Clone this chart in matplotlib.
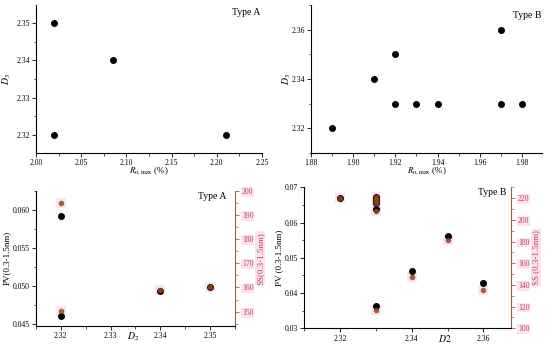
import matplotlib
matplotlib.use("Agg")
import matplotlib.pyplot as plt
from matplotlib.ticker import MultipleLocator, FormatStrFormatter

plt.rcParams['font.family'] = ['Liberation Serif', 'DejaVu Serif']
plt.rcParams['mathtext.fontset'] = 'stix'

# Top-left: Type A, Ro,max vs D3
a_ro = [2.02, 2.02, 2.085, 2.21]
a_d3 = [2.35, 2.32, 2.34, 2.32]
# Top-right: Type B
b_ro = [1.89, 1.91, 1.92, 1.92, 1.93, 1.94, 1.97, 1.97, 1.98]
b_d3 = [2.32, 2.34, 2.35, 2.33, 2.33, 2.33, 2.36, 2.33, 2.33]
# Bottom-left: Type A, D2 vs PV and SS
a_d2 = [2.32, 2.32, 2.34, 2.35]
a_pv = [0.0592, 0.0461, 0.0494, 0.0499]
a_ss = [195.1, 150.4, 158.9, 160.0]
# Bottom-right: Type B
b_d2 = [2.32, 2.33, 2.33, 2.33, 2.33, 2.33, 2.34, 2.35, 2.36]
b_pv = [0.0670, 0.0672, 0.0664, 0.0655, 0.0638, 0.0362, 0.0463, 0.0563, 0.0428]
b_ss = [220.0, 221.3, 218.3, 215.3, 208.2, 117.0, 147.6, 181.7, 135.6]

W, H = 550, 348
fig = plt.figure(figsize=(5.5, 3.48), dpi=100)

def pos(l, r, t, b):
    return [l / W, 1 - b / H, (r - l) / W, (b - t) / H]

TICK = 5.5
BROWN = '#a0603a'
RED = '#c8404a'
PINK = '#fde2f1'
SSCOL = '#94471a'

def style(ax, right=False):
    ax.spines['top'].set_visible(False)
    if not right:
        ax.spines['right'].set_visible(False)
    ax.tick_params(which='both', direction='out', labelsize=TICK, pad=1.5)
    ax.tick_params(which='major', length=3, width=0.6)
    ax.tick_params(which='minor', length=1.8, width=0.5)
    for s in ['left', 'bottom']:
        ax.spines[s].set_linewidth(0.8)

# Panel 1
ax1 = fig.add_axes(pos(36, 262, 5, 153))
ax1.scatter(a_ro, a_d3, s=16, color='black', zorder=3)
ax1.set_xlim(2.0, 2.25)
ax1.set_ylim(2.3152, 2.3548)
ax1.xaxis.set_major_locator(MultipleLocator(0.05))
ax1.xaxis.set_minor_locator(MultipleLocator(0.025))
ax1.yaxis.set_major_locator(MultipleLocator(0.01))
ax1.yaxis.set_minor_locator(MultipleLocator(0.005))
ax1.xaxis.set_major_formatter(FormatStrFormatter('%.2f'))
ax1.yaxis.set_major_formatter(FormatStrFormatter('%.2f'))
style(ax1)
ax1.set_xlabel(r'$R_{\mathrm{o,max}}$ (%)', fontsize=6.5, labelpad=-1)
ax1.set_ylabel(r'$D_3$', fontsize=7, labelpad=2)
ax1.text(0.93, 0.95, 'Type A', transform=ax1.transAxes, fontsize=7, ha='center', va='center')

# Panel 2
ax2 = fig.add_axes(pos(311, 542, 5, 153))
ax2.scatter(b_ro, b_d3, s=16, color='black', zorder=3)
ax2.set_xlim(1.88, 1.9895)
ax2.set_ylim(2.31, 2.37)
ax2.xaxis.set_major_locator(MultipleLocator(0.02))
ax2.xaxis.set_minor_locator(MultipleLocator(0.01))
ax2.yaxis.set_major_locator(MultipleLocator(0.02))
ax2.yaxis.set_minor_locator(MultipleLocator(0.01))
ax2.xaxis.set_major_formatter(FormatStrFormatter('%.2f'))
ax2.yaxis.set_major_formatter(FormatStrFormatter('%.2f'))
style(ax2)
ax2.set_xlabel(r'$R_{\mathrm{o,max}}$ (%)', fontsize=6.5, labelpad=-1)
ax2.set_ylabel(r'$D_3$', fontsize=7, labelpad=-1)
ax2.text(0.935, 0.93, 'Type B', transform=ax2.transAxes, fontsize=7, ha='center', va='center')

def twin_panel(rect, d2, pv, ss, xlim, ylim, y2lim, xmaj, xmin, ymaj, ymin, y2maj, y2min,
               yfmt, y2fmt, xlabel, ylabel, y2label, tx, ty, ttext, xlcoords):
    ax = fig.add_axes(rect)
    axr = ax.twinx()
    axr.set_position(rect)
    axr.set_ylim(*y2lim)
    ax.set_zorder(axr.get_zorder() + 1)
    ax.patch.set_visible(False)
    ax.scatter(d2, ss, s=55, marker='s', color=PINK, zorder=1, linewidths=0,
               transform=axr.transData)
    ax.scatter(d2, pv, s=16, color='black', zorder=3)
    ax.scatter(d2, ss, s=16, color=SSCOL, alpha=0.85, zorder=4, linewidths=0,
               transform=axr.transData)
    ax.set_xlim(*xlim)
    ax.set_ylim(*ylim)
    ax.xaxis.set_major_locator(MultipleLocator(xmaj))
    ax.xaxis.set_minor_locator(MultipleLocator(xmin))
    ax.yaxis.set_major_locator(MultipleLocator(ymaj))
    ax.yaxis.set_minor_locator(MultipleLocator(ymin))
    ax.xaxis.set_major_formatter(FormatStrFormatter('%.2f'))
    ax.yaxis.set_major_formatter(FormatStrFormatter(yfmt))
    style(ax)
    ax.set_xlabel(xlabel, fontsize=7)
    ax.xaxis.set_label_coords(*xlcoords)
    ax.set_ylabel(ylabel, fontsize=6.5, labelpad=1)
    ax.text(tx, ty, ttext, transform=ax.transAxes, fontsize=7, ha='center', va='center')
    axr.yaxis.set_major_locator(MultipleLocator(y2maj))
    axr.yaxis.set_minor_locator(MultipleLocator(y2min))
    axr.yaxis.set_major_formatter(FormatStrFormatter(y2fmt))
    for s in ['top', 'left', 'bottom']:
        axr.spines[s].set_visible(False)
    axr.spines['right'].set_color(BROWN)
    axr.spines['right'].set_linewidth(0.8)
    axr.tick_params(which='both', direction='out', labelsize=TICK, colors=BROWN, pad=2)
    axr.tick_params(which='major', length=3, width=0.6)
    axr.tick_params(which='minor', length=1.8, width=0.5)
    for lbl in axr.get_yticklabels():
        lbl.set_color(RED)
        lbl.set_bbox(dict(facecolor=PINK, edgecolor='none', pad=0.6))
    axr.set_ylabel(y2label, fontsize=6.5, color=RED, labelpad=2,
                   bbox=dict(facecolor=PINK, edgecolor='none', pad=0.6))
    return ax, axr

# Panel 3
twin_panel(pos(36, 235, 190.7, 325.7), a_d2, a_pv, a_ss,
           (2.315, 2.355), (0.0448, 0.0626), (144.2, 200.0),
           0.01, 0.005, 0.005, 0.0025, 10, 5, '%.3f', '%d',
           r'$D_2$', 'PV(0.3-1.5nm)', 'SS(0.3-1.5nm)', 0.885, 0.955, 'Type A',
           (0.49, -0.035))

# Panel 4
twin_panel(pos(304.3, 511, 187.3, 328.3), b_d2, b_pv, b_ss,
           (2.31, 2.3677), (0.03, 0.07), (100, 230),
           0.02, 0.01, 0.01, 0.005, 20, 10, '%.2f', '%d',
           r'$D2$', 'PV (0.3-1.5nm)', 'SS (0.3-1.5nm)', 0.91, 0.965, 'Type B',
           (0.68, -0.03))

fig.savefig('out.png', dpi=100)
